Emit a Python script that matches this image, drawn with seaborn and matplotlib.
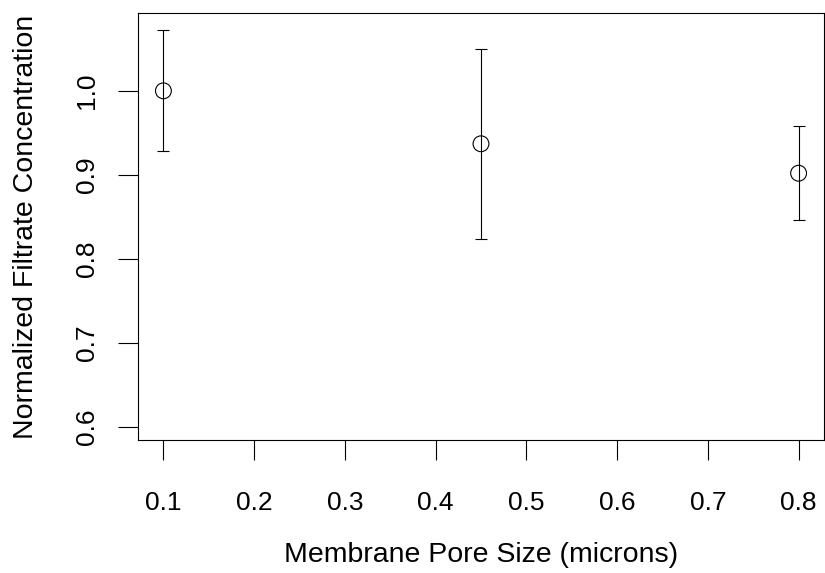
import matplotlib
matplotlib.use("Agg")
import matplotlib.pyplot as plt
import seaborn as sns
import pandas as pd

pore_size = [0.1, 0.45, 0.8]
concentration = [1.0, 0.937, 0.902]
err_low = [0.071, 0.113, 0.056]
err_high = [0.072, 0.113, 0.056]
x_ticks = [0.1, 0.2, 0.3, 0.4, 0.5, 0.6, 0.7, 0.8]
y_ticks = [0.6, 0.7, 0.8, 0.9, 1.0]

df = pd.DataFrame({"pore": pore_size, "conc": concentration})

sns.set_style("white")
plt.rcParams["font.family"] = ["Liberation Sans", "DejaVu Sans"]
plt.rcParams["text.color"] = "black"
plt.rcParams["axes.labelcolor"] = "black"

fig = plt.figure(figsize=(8.25, 5.73), dpi=100)
ax = fig.add_axes([138/825, 1-440/573, (824-138)/825, (440-13)/573])

ax.errorbar(pore_size, concentration, yerr=[err_low, err_high], fmt="none",
            ecolor="black", elinewidth=0.8, capsize=4.3, capthick=0.8, zorder=1)
sns.scatterplot(data=df, x="pore", y="conc", ax=ax, s=130, marker="o",
                facecolor="none", edgecolor="black", linewidth=0.8, zorder=2)

ax.set_xlim(0.072, 0.828)
ax.set_ylim(0.5846, 1.0926)
ax.set_xticks(x_ticks)
ax.set_xticklabels([f"{v:.1f}" for v in x_ticks])
ax.set_yticks(y_ticks)
ax.set_yticklabels([f"{v:.1f}" for v in y_ticks], rotation=90, va="center")

for s in ax.spines.values():
    s.set_visible(True)
    s.set_color("black")
    s.set_linewidth(0.8)

ax.tick_params(axis="both", which="major", direction="out", length=14.4,
               width=0.8, color="black", labelsize=19, labelcolor="black",
               bottom=True, left=True)
ax.tick_params(axis="x", pad=22.5)
ax.tick_params(axis="y", pad=14)

ax.set_xlabel("Membrane Pore Size (microns)", fontsize=20.5, color="black")
ax.set_ylabel("Normalized Filtrate Concentration", fontsize=20.5, color="black")
ax.xaxis.set_label_coords(0.5 * (138 + 824) / 825, 1 - 542 / 573, transform=fig.transFigure)
ax.yaxis.set_label_coords(39 / 825, 1 - (13 + 440) / 2 / 573, transform=fig.transFigure)

fig.savefig("out.png", dpi=100)
